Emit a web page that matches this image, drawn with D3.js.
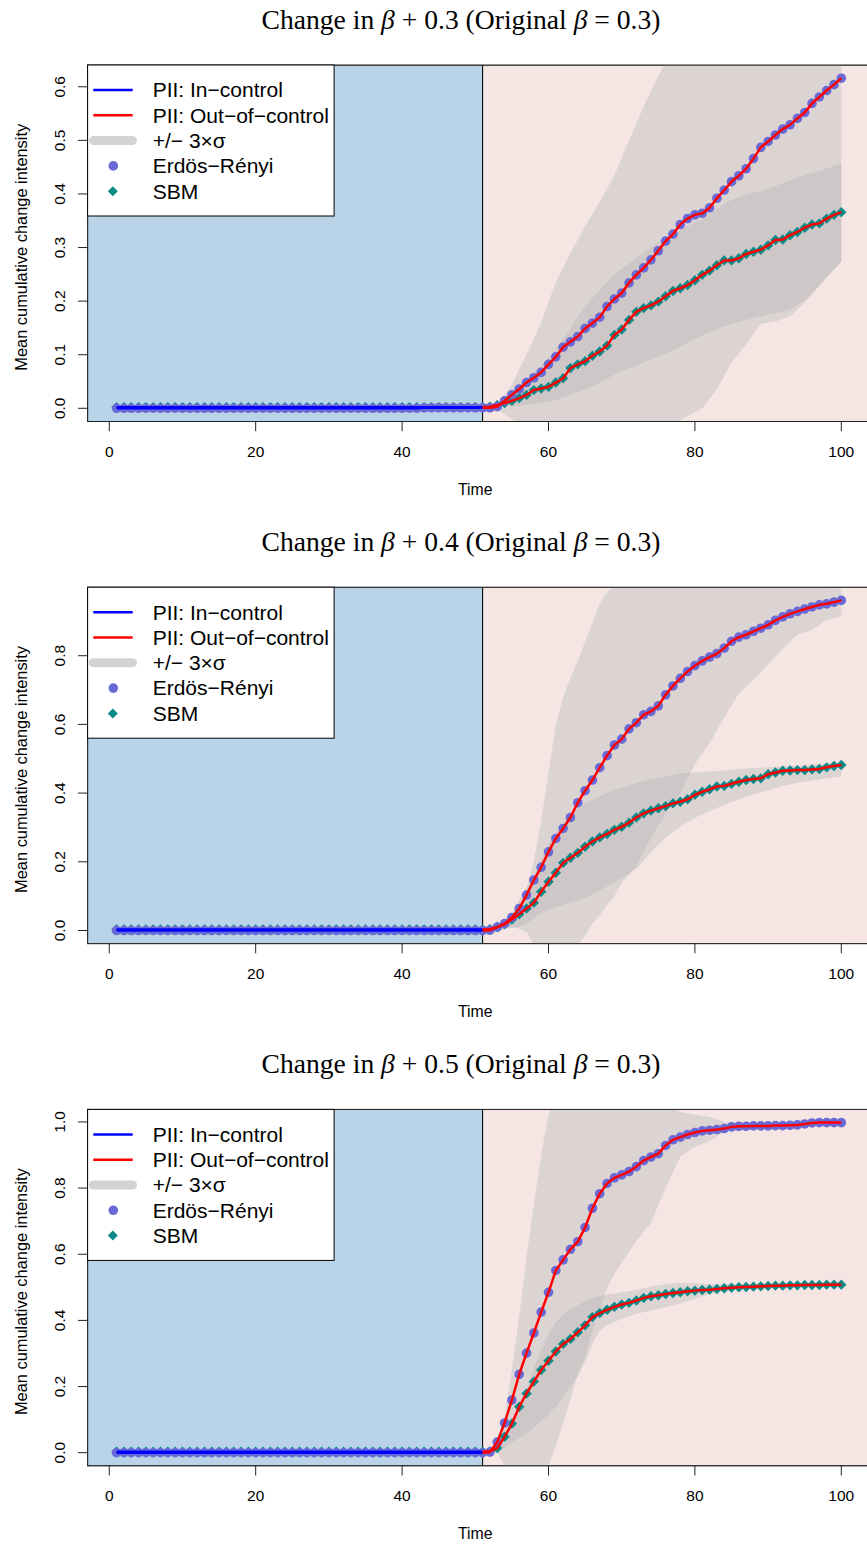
<!DOCTYPE html>
<html>
<head>
<meta charset="utf-8">
<script src="https://cdn.jsdelivr.net/npm/d3@7"></script>
<style>
  body { margin: 0; background: #fff; }
  svg { display: block; }
  text { font-family: "Liberation Sans", Arial, sans-serif; fill: #000; }
</style>
</head>
<body>
<svg id="chart" width="867" height="1545"></svg>
<script>
// ---------------- data ----------------
const time = d3.range(1, 101);            // time steps 1..100
const changePoint = 51;                    // change occurs after this step
const shifts = ["0.3", "0.4", "0.5"];      // beta increments per panel
const originalBeta = "0.3";

// Mean cumulative change intensity, panel 1 (beta + 0.3)
const erMean1 = [
  0,0,0,0,0,0,0,0,0,0, 0,0,0,0,0,0,0,0,0,0, 0,0,0,0,0,0,0,0,0,0, 0,0,0,0,0,0,0,0,0,0,
  0,0,0.001,0.001,0.001,0.001,0.001,0.001,0.001,0.001,
  0.001,0.001,0.003,0.014,0.025,0.036,0.048,0.057,0.067,0.082,
  0.096,0.114,0.124,0.134,0.149,0.159,0.170,0.190,0.204,0.215,
  0.234,0.249,0.262,0.277,0.294,0.312,0.325,0.343,0.354,0.361,
  0.364,0.374,0.392,0.407,0.423,0.434,0.447,0.466,0.487,0.498,
  0.510,0.521,0.529,0.541,0.552,0.569,0.581,0.593,0.604,0.616];
const sbmMean1 = [
  0.002,0.002,0.002,0.002,0.002,0.002,0.002,0.002,0.002,0.002,
  0.002,0.002,0.002,0.002,0.002,0.002,0.002,0.002,0.002,0.002,
  0.002,0.002,0.002,0.002,0.002,0.002,0.002,0.002,0.002,0.002,
  0.002,0.002,0.002,0.002,0.002,0.002,0.002,0.002,0.002,0.002,
  0.002,0.002,0.002,0.002,0.002,0.002,0.002,0.002,0.002,0.002,
  0.002,0.003,0.006,0.010,0.014,0.019,0.025,0.034,0.037,0.040,
  0.048,0.056,0.075,0.082,0.088,0.098,0.106,0.117,0.137,0.147,
  0.165,0.180,0.187,0.192,0.199,0.209,0.219,0.224,0.230,0.239,
  0.249,0.257,0.267,0.276,0.276,0.280,0.288,0.292,0.296,0.304,
  0.314,0.315,0.323,0.329,0.337,0.343,0.345,0.354,0.361,0.366];

// panel 2 (beta + 0.4)
const erMean2 = [
  0,0,0,0,0,0,0,0,0,0, 0,0,0,0,0,0,0,0,0,0, 0,0,0,0,0,0,0,0,0,0, 0,0,0,0,0,0,0,0,0,0,
  0,0,0,0,0,0,0,0,0,0,
  0.000,0.001,0.010,0.020,0.038,0.064,0.103,0.147,0.184,0.229,
  0.268,0.297,0.329,0.372,0.407,0.438,0.474,0.509,0.540,0.557,
  0.587,0.605,0.628,0.638,0.654,0.686,0.712,0.734,0.754,0.771,
  0.785,0.796,0.806,0.822,0.842,0.854,0.861,0.871,0.880,0.890,
  0.903,0.913,0.922,0.929,0.936,0.942,0.948,0.951,0.956,0.961];
const sbmMean2 = [
  0.003,0.003,0.003,0.003,0.003,0.003,0.003,0.003,0.003,0.003,
  0.003,0.003,0.003,0.003,0.003,0.003,0.003,0.003,0.003,0.003,
  0.003,0.003,0.003,0.003,0.003,0.003,0.003,0.003,0.003,0.003,
  0.003,0.003,0.003,0.003,0.003,0.003,0.003,0.003,0.003,0.003,
  0.003,0.003,0.003,0.003,0.003,0.003,0.003,0.003,0.003,0.003,
  0.003,0.004,0.010,0.018,0.032,0.047,0.064,0.081,0.113,0.142,
  0.168,0.197,0.212,0.226,0.244,0.259,0.271,0.281,0.293,0.302,
  0.314,0.329,0.341,0.349,0.356,0.362,0.370,0.375,0.382,0.395,
  0.404,0.411,0.419,0.421,0.427,0.433,0.438,0.441,0.443,0.455,
  0.460,0.465,0.466,0.467,0.467,0.469,0.470,0.475,0.479,0.482];

// panel 3 (beta + 0.5)
const erMean3 = [
  0,0,0,0,0,0,0,0,0,0, 0,0,0,0,0,0,0,0,0,0, 0,0,0,0,0,0,0,0,0,0, 0,0,0,0,0,0,0,0,0,0,
  0,0,0,0,0,0,0,0,0,0,
  0.000,0.002,0.032,0.090,0.159,0.237,0.301,0.362,0.425,0.485,
  0.551,0.583,0.615,0.638,0.681,0.739,0.783,0.814,0.831,0.840,
  0.850,0.865,0.883,0.894,0.904,0.929,0.946,0.954,0.962,0.968,
  0.973,0.975,0.977,0.980,0.985,0.987,0.987,0.988,0.988,0.988,
  0.989,0.989,0.990,0.991,0.994,0.997,0.998,0.998,0.998,0.998];
const sbmMean3 = [
  0.003,0.003,0.003,0.003,0.003,0.003,0.003,0.003,0.003,0.003,
  0.003,0.003,0.003,0.003,0.003,0.003,0.003,0.003,0.003,0.003,
  0.003,0.003,0.003,0.003,0.003,0.003,0.003,0.003,0.003,0.003,
  0.003,0.003,0.003,0.003,0.003,0.003,0.003,0.003,0.003,0.003,
  0.003,0.003,0.003,0.003,0.003,0.003,0.003,0.003,0.003,0.003,
  0.003,0.004,0.014,0.048,0.088,0.139,0.179,0.215,0.250,0.278,
  0.306,0.329,0.344,0.364,0.385,0.410,0.422,0.432,0.441,0.448,
  0.453,0.460,0.468,0.473,0.476,0.480,0.483,0.485,0.488,0.490,
  0.492,0.493,0.495,0.497,0.499,0.500,0.501,0.502,0.503,0.504,
  0.505,0.505,0.506,0.506,0.507,0.507,0.507,0.508,0.508,0.508];

// +/- 3 sigma envelopes (time knots and bounds)
const bandTime1 = [51,53,55,57,59,61,63,65,67,69,71,73,75,77,79,81,83,85,87,89,91,93,95,97,100];
const erUpper1  = [0,0.004,0.045,0.10,0.16,0.235,0.29,0.34,0.385,0.435,0.50,0.563,0.62,0.67,0.71,0.74,0.77,0.80,0.83,0.86,0.88,0.90,0.92,0.94,0.958];
const erLower1  = [0,-0.003,-0.02,-0.04,-0.06,-0.07,-0.08,-0.08,-0.08,-0.07,-0.07,-0.06,-0.05,-0.03,-0.015,0.0,0.035,0.085,0.12,0.158,0.162,0.172,0.198,0.228,0.274];
const sbmUpper1 = [0.002,0.01,0.03,0.055,0.08,0.11,0.15,0.19,0.221,0.25,0.27,0.29,0.31,0.325,0.34,0.353,0.372,0.389,0.398,0.406,0.415,0.425,0.435,0.443,0.457];
const sbmLower1 = [0.002,0.003,0.004,0.006,0.01,0.015,0.025,0.035,0.048,0.063,0.075,0.085,0.097,0.108,0.122,0.136,0.148,0.158,0.165,0.172,0.178,0.185,0.20,0.23,0.274];

const bandTime2 = [51,53,55,56,57,58,59,60,61,62,63,64,65,66,67,68,69,70,72,74,76,78,80,82,84,86,88,90,92,94,96,98,100];
const erUpper2  = [0,0.012,0.045,0.08,0.12,0.20,0.32,0.46,0.60,0.68,0.735,0.785,0.84,0.895,0.953,0.985,1.005,1.02,1.04,1.05,1.06,1.06,1.06,1.05,1.04,1.03,1.02,1.01,1.008,1.004,1.0,0.998,0.995];
const erLower2  = [0,-0.003,0.01,0.005,-0.005,-0.04,-0.07,-0.08,-0.08,-0.08,-0.07,-0.04,-0.015,0.02,0.045,0.075,0.10,0.14,0.186,0.27,0.341,0.40,0.485,0.545,0.62,0.69,0.73,0.775,0.82,0.862,0.875,0.905,0.914];
const sbmUpper2 = [0.003,0.012,0.05,0.088,0.125,0.16,0.205,0.25,0.285,0.31,0.335,0.355,0.368,0.38,0.39,0.40,0.41,0.415,0.43,0.44,0.448,0.458,0.46,0.463,0.466,0.47,0.473,0.475,0.478,0.48,0.483,0.486,0.49];
const sbmLower2 = [0.003,0.005,0.008,0.011,0.02,0.035,0.05,0.06,0.068,0.075,0.082,0.087,0.095,0.105,0.117,0.128,0.14,0.153,0.18,0.228,0.27,0.302,0.328,0.347,0.365,0.382,0.396,0.408,0.421,0.43,0.437,0.443,0.448];

const bandTime3 = [51,52,53,54,55,56,57,58,59,60,61,62,63,64,65,66,67,68,69,70,72,74,76,78,80,82,84,86,88,90,92,94,96,98,100];
const erUpper3  = [0,0.005,0.04,0.11,0.25,0.41,0.59,0.75,0.90,1.02,1.08,1.10,1.10,1.10,1.10,1.10,1.10,1.10,1.10,1.10,1.09,1.07,1.05,1.03,1.022,1.015,1.0,0.995,0.993,0.993,0.994,0.996,1.0,1.002,1.003];
const erLower3  = [0,0,0.0,-0.04,-0.07,-0.09,-0.1,-0.1,-0.1,-0.04,0.02,0.09,0.16,0.24,0.29,0.37,0.43,0.498,0.54,0.575,0.64,0.695,0.80,0.895,0.925,0.942,0.97,0.98,0.983,0.983,0.984,0.986,0.99,0.993,0.993];
const sbmUpper3 = [0.003,0.004,0.02,0.05,0.085,0.14,0.195,0.255,0.31,0.36,0.395,0.417,0.433,0.446,0.458,0.468,0.474,0.478,0.481,0.485,0.492,0.502,0.51,0.514,0.512,0.51,0.51,0.509,0.509,0.51,0.511,0.512,0.513,0.513,0.514];
const sbmLower3 = [0.003,0.003,0.005,0.015,0.03,0.045,0.058,0.075,0.095,0.115,0.14,0.17,0.2,0.23,0.275,0.33,0.37,0.385,0.395,0.405,0.42,0.43,0.44,0.452,0.465,0.48,0.49,0.495,0.497,0.499,0.5,0.501,0.502,0.502,0.503];

const yTicks1 = [0, 0.1, 0.2, 0.3, 0.4, 0.5, 0.6];
const yTicks2 = [0, 0.2, 0.4, 0.6, 0.8];
const yTicks3 = [0, 0.2, 0.4, 0.6, 0.8, 1.0];
const xTicks = [0, 20, 40, 60, 80, 100];

const legendLabels = ["PII: In\u2212control", "PII: Out\u2212of\u2212control", "+/\u2212 3\u00d7\u03c3", "Erd\u00f6s\u2212R\u00e9nyi", "SBM"];

// ---------------- styling ----------------
const colIn = "#0000ff", colOut = "#ff0000";
const colER = "#6a6ad6", colSBM = "#0b8a87";
const colPre = "#b9d4e8", colPost = "#f5e6e4";
const colBand = "rgba(183,183,185,0.4)";

const panels = [
  { shift: shifts[0], er: erMean1, sbm: sbmMean1, bt: bandTime1, erHi: erUpper1, erLo: erLower1, sbHi: sbmUpper1, sbLo: sbmLower1, ticks: yTicks1 },
  { shift: shifts[1], er: erMean2, sbm: sbmMean2, bt: bandTime2, erHi: erUpper2, erLo: erLower2, sbHi: sbmUpper2, sbLo: sbmLower2, ticks: yTicks2 },
  { shift: shifts[2], er: erMean3, sbm: sbmMean3, bt: bandTime3, erHi: erUpper3, erLo: erLower3, sbHi: sbmUpper3, sbLo: sbmLower3, ticks: yTicks3 }
];

const svg = d3.select("#chart");
const plotLeft = 87.6, plotRight = 870.3;
const firstTop = 65, panelStep = 522.2, plotH = 356.5;

// R-style 4% axis padding on the time range
const tPad = 0.04 * (d3.max(time) - d3.min(time));
const x = d3.scaleLinear().domain([d3.min(time) - tPad, d3.max(time) + tPad]).range([plotLeft, plotRight]);

const diamond = r => `M0,${-r}L${r},0L0,${r}L${-r},0Z`;

panels.forEach((p, i) => {
  const top = firstTop + i * panelStep;
  const bottom = top + plotH;
  const yMax = d3.max(p.er);
  const y = d3.scaleLinear().domain([-0.04 * yMax, 1.04 * yMax]).range([bottom, top]);

  const g = svg.append("g");
  const clipId = "clip" + i;
  g.append("clipPath").attr("id", clipId)
    .append("rect").attr("x", plotLeft).attr("y", top).attr("width", plotRight - plotLeft).attr("height", plotH);

  const plot = g.append("g").attr("clip-path", `url(#${clipId})`);

  // in-control and out-of-control periods
  plot.append("rect").attr("x", plotLeft).attr("y", top)
    .attr("width", x(changePoint) - plotLeft).attr("height", plotH)
    .attr("fill", colPre).attr("stroke", "#000").attr("stroke-width", 1);
  plot.append("rect").attr("x", x(changePoint)).attr("y", top)
    .attr("width", plotRight - x(changePoint)).attr("height", plotH)
    .attr("fill", colPost).attr("stroke", "#000").attr("stroke-width", 1);

  // +/- 3 sigma envelopes
  const area = d3.area().x(d => x(d.t)).y0(d => y(d.lo)).y1(d => y(d.hi));
  const erBand = p.bt.map((t, k) => ({ t, lo: p.erLo[k], hi: p.erHi[k] }));
  const sbBand = p.bt.map((t, k) => ({ t, lo: p.sbLo[k], hi: p.sbHi[k] }));
  plot.append("path").attr("d", area(erBand)).attr("fill", colBand);
  plot.append("path").attr("d", area(sbBand)).attr("fill", colBand);

  // mean points
  const sbmPts = time.map((t, k) => ({ t, v: p.sbm[k] }));
  const erPts = time.map((t, k) => ({ t, v: p.er[k] }));
  plot.append("g").selectAll("path").data(sbmPts).join("path")
    .attr("transform", d => `translate(${x(d.t)},${y(d.v)})`)
    .attr("d", diamond(5.2)).attr("fill", colSBM);
  plot.append("g").selectAll("circle").data(erPts).join("circle")
    .attr("cx", d => x(d.t)).attr("cy", d => y(d.v)).attr("r", 4.8).attr("fill", colER);

  // PII lines
  const line = d3.line().x(d => x(d.t)).y(d => y(d.v));
  [erPts, sbmPts].forEach(pts => {
    plot.append("path").attr("d", line(pts.filter(d => d.t <= changePoint)))
      .attr("fill", "none").attr("stroke", colIn).attr("stroke-width", 2.5);
  });
  [erPts, sbmPts].forEach(pts => {
    plot.append("path").attr("d", line(pts.filter(d => d.t >= changePoint)))
      .attr("fill", "none").attr("stroke", colOut).attr("stroke-width", 2.5);
  });

  // frame
  g.append("rect").attr("x", plotLeft).attr("y", top).attr("width", plotRight - plotLeft).attr("height", plotH)
    .attr("fill", "none").attr("stroke", "#222").attr("stroke-width", 1);

  // x axis
  const xa = g.append("g");
  xa.selectAll("line").data(xTicks).join("line")
    .attr("x1", d => x(d)).attr("x2", d => x(d)).attr("y1", bottom).attr("y2", bottom + 9.6)
    .attr("stroke", "#222");
  xa.selectAll("text").data(xTicks).join("text")
    .attr("x", d => x(d)).attr("y", bottom + 35).attr("text-anchor", "middle")
    .attr("font-size", 15.5).text(d => d);
  g.append("text").attr("x", x(50)).attr("y", bottom + 73.5).attr("text-anchor", "middle")
    .attr("font-size", 15.8).text("Time");

  // y axis
  const ya = g.append("g");
  ya.selectAll("line").data(p.ticks).join("line")
    .attr("x1", plotLeft - 9.6).attr("x2", plotLeft).attr("y1", d => y(d)).attr("y2", d => y(d))
    .attr("stroke", "#222");
  ya.selectAll("text").data(p.ticks).join("text")
    .attr("transform", d => `translate(60,${y(d)}) rotate(-90)`)
    .attr("dy", "0.35em").attr("text-anchor", "middle").attr("font-size", 15.5)
    .text(d => d3.format(".1f")(d));
  g.append("text").attr("transform", `translate(21.7,${(top + bottom) / 2 + 4}) rotate(-90)`)
    .attr("dy", "0.35em").attr("text-anchor", "middle").attr("font-size", 16.4)
    .text("Mean cumulative change intensity");

  // title
  const title = g.append("text").attr("x", 461).attr("y", top - 36)
    .attr("text-anchor", "middle").attr("font-size", 27.6)
    .style("font-family", '"Liberation Serif", "Times New Roman", serif');
  title.append("tspan").text("Change in ");
  title.append("tspan").attr("font-style", "italic").text("\u03b2");
  title.append("tspan").text(" + " + p.shift + " (Original ");
  title.append("tspan").attr("font-style", "italic").text("\u03b2");
  title.append("tspan").text(" = " + originalBeta + ")");

  // legend
  const lg = g.append("g");
  const lgW = 246.5, lgH = 151;
  lg.append("rect").attr("x", plotLeft).attr("y", top).attr("width", lgW).attr("height", lgH)
    .attr("fill", "#fff").attr("stroke", "#000").attr("stroke-width", 1);
  const rowY = k => top + 25 + k * 25.3;
  lg.append("line").attr("x1", 93.3).attr("x2", 132.7).attr("y1", rowY(0)).attr("y2", rowY(0))
    .attr("stroke", colIn).attr("stroke-width", 2.5);
  lg.append("line").attr("x1", 93.3).attr("x2", 132.7).attr("y1", rowY(1)).attr("y2", rowY(1))
    .attr("stroke", colOut).attr("stroke-width", 2.5);
  lg.append("line").attr("x1", 93.5).attr("x2", 132.5).attr("y1", rowY(2)).attr("y2", rowY(2))
    .attr("stroke", "#d3d3d3").attr("stroke-width", 9).attr("stroke-linecap", "round");
  lg.append("circle").attr("cx", 113.3).attr("cy", rowY(3)).attr("r", 4.8).attr("fill", colER);
  lg.append("path").attr("transform", `translate(112.8,${rowY(4)})`).attr("d", diamond(5)).attr("fill", colSBM);
  lg.selectAll("text.lab").data(legendLabels).join("text").attr("class", "lab")
    .attr("x", 152.7).attr("y", (d, k) => rowY(k)).attr("dy", "0.35em")
    .attr("font-size", 21).text(d => d);
});
</script>
</body>
</html>
